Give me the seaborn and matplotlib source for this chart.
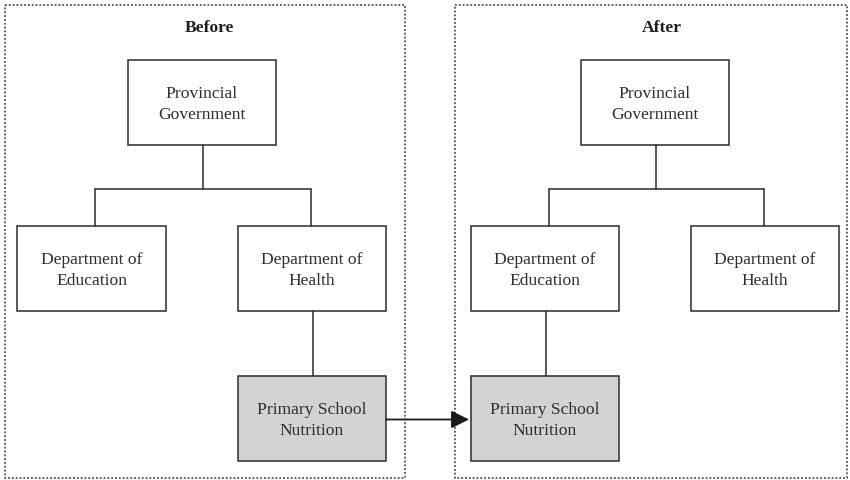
import matplotlib.pyplot as plt
import matplotlib.patches as mpatches
import seaborn as sns

# panels: title, title position, left, right (pixel coords, y down)
panel_titles = ["Before", "After"]
title_x = [209, 662]
panel_x0 = [5, 455]
panel_x1 = [405, 847]

# nodes of each panel
node_labels = ["Provincial\nGovernment", "Department of\nEducation",
               "Department of\nHealth", "Primary School\nNutrition"]
before_boxes = [(128, 61, 276, 146), (17, 227, 166, 312),
                (238, 227, 386, 312), (238, 377, 386, 462)]
after_boxes = [(581, 61, 729, 146), (471, 227, 619, 312),
               (691, 227, 839, 312), (471, 377, 619, 462)]
# which department the nutrition programme hangs off
before_parent = 2
after_parent = 1

LINE = "#2b2b2b"
TEXT = "#2e2e2e"
GREY = "#d3d3d5"


def draw_panel(ax, boxes, parent, title, tx, x0, x1):
    ax.add_patch(mpatches.Rectangle((x0, 6), x1 - x0, 473, fill=False,
                                    ec="#333333", lw=1.1, ls=(0, (1.2, 1.3))))
    ax.text(tx, 28, title, ha="center", va="center", fontsize=12.6,
            fontweight="bold", color="#1e1e1e")
    for i, (bx0, by0, bx1, by1) in enumerate(boxes):
        fc = GREY if i == 3 else "white"
        ax.add_patch(mpatches.Rectangle((bx0, by0), bx1 - bx0, by1 - by0,
                                        fc=fc, ec=LINE, lw=1.1))
        ax.text((bx0 + bx1) / 2, (by0 + by1) / 2 + 1, node_labels[i],
                ha="center", va="center", fontsize=12.6, color=TEXT,
                linespacing=1.4)
    top = boxes[0]
    cx = (top[0] + top[2]) / 2 + 1
    lx = (boxes[1][0] + boxes[1][2]) / 2 + 4
    rx = (boxes[2][0] + boxes[2][2]) / 2 - 1
    ax.plot([cx, cx], [top[3], 190], color=LINE, lw=1.1)
    ax.plot([lx, rx], [190, 190], color=LINE, lw=1.1)
    ax.plot([lx, lx], [190, boxes[1][1]], color=LINE, lw=1.1)
    ax.plot([rx, rx], [190, boxes[2][1]], color=LINE, lw=1.1)
    p = boxes[parent]
    px = (p[0] + p[2]) / 2 + 1
    ax.plot([px, px], [p[3], boxes[3][1]], color=LINE, lw=1.1)


sns.set_theme(style="white")
plt.rcParams["font.family"] = ["Liberation Serif", "DejaVu Serif"]

fig = plt.figure(figsize=(8.5, 4.81), dpi=100)
ax = fig.add_axes([0, 0, 1, 1])
ax.set_xlim(0, 850)
ax.set_ylim(481, 0)
ax.axis("off")

for k, boxes, parent in [(0, before_boxes, before_parent),
                         (1, after_boxes, after_parent)]:
    draw_panel(ax, boxes, parent, panel_titles[k], title_x[k],
               panel_x0[k], panel_x1[k])

# transfer arrow
src = before_boxes[3]
dst = after_boxes[3]
ymid = (src[1] + src[3]) / 2 + 1
ax.annotate("", xy=(dst[0] - 2, ymid), xytext=(src[2], ymid),
            arrowprops=dict(arrowstyle="-|>,head_length=0.9,head_width=0.45",
                            color="#1a1a1a", lw=1.3, shrinkA=0, shrinkB=0))

fig.savefig("out.png", dpi=100)
